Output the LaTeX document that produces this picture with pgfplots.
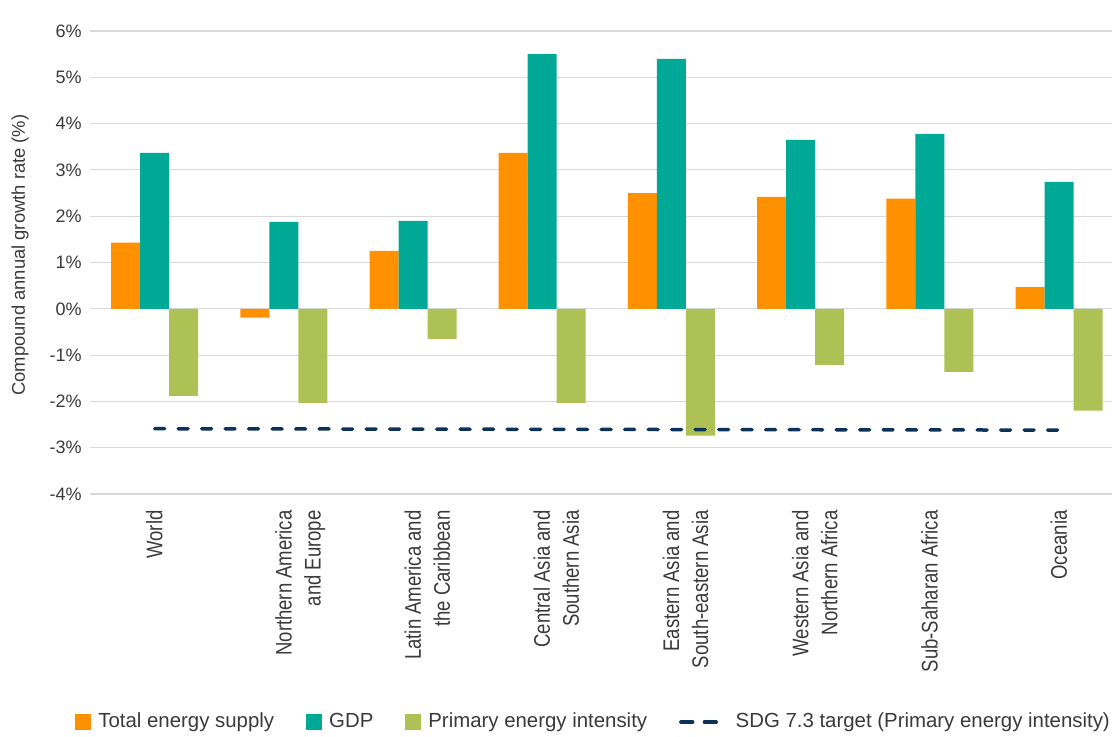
\documentclass[border=0pt]{standalone}
\usepackage{fontspec}
\setmainfont{Liberation Sans}
\newfontfamily\condfont{Liberation Sans}[FakeStretch=0.82]
\usepackage{pgfplots}
\pgfplotsset{compat=1.18}
\definecolor{tes}{HTML}{FF9100}
\definecolor{gdp}{HTML}{00A896}
\definecolor{pei}{HTML}{AEC154}
\definecolor{sdg}{HTML}{0D3259}
\definecolor{txt}{HTML}{3A3A3A}
\definecolor{grd}{HTML}{D9D9D9}
\begin{document}
\begin{tikzpicture}[font=\fontsize{9}{10}\selectfont]
\useasboundingbox (-45pt,-121pt) rectangle (511pt,247pt);
\begin{axis}[
  at={(0,0)}, anchor=south west,
  scale only axis, width=511pt, height=231.5pt,
  xmin=-0.5, xmax=7.41, ymin=-4, ymax=6,
  axis line style={draw=none},
  major tick length=0pt,
  ymajorgrids, grid style={grd, line width=0.6pt},
  ytick={-4,-3,-2,-1,0,1,2,3,4,5,6},
  yticklabels={-4\%,-3\%,-2\%,-1\%,0\%,1\%,2\%,3\%,4\%,5\%,6\%},
  yticklabel style={inner sep=0pt, text=txt, font=\fontsize{9}{10}\selectfont},
  yticklabel shift=4pt,
  xtick={0,1,2,3,4,5,6,7},
  xticklabels={World,{Northern America\\and Europe},{Latin America and\\the Caribbean},{Central Asia and\\Southern Asia},{Eastern Asia and\\South-eastern Asia},{Western Asia and\\Northern Africa},Sub-Saharan Africa,Oceania},
  xticklabel style={xshift=-4.5pt, rotate=90, anchor=north east, align=right, inner sep=0pt, text=txt, font=\condfont\fontsize{11.3}{14.5}\selectfont},
  xticklabel shift=8pt,
  ylabel={Compound annual growth rate (\%)},
  ylabel style={at={(axis description cs:-0.0685,0.516)}, anchor=center, text=txt, font=\fontsize{9.2}{11}\selectfont},
  legend columns=4,
  legend style={at={(axis description cs:-0.0147,-0.4924)}, anchor=west, draw=none, inner sep=0pt, fill=none,
    font=\fontsize{10.2}{12}\selectfont, text=txt,
    nodes={inner sep=0pt},
    /tikz/every odd column/.append style={column sep=3.5pt},
    /tikz/every even column/.append style={column sep=16pt}},
]
\addplot[ybar, bar width=14.5pt, bar shift=-14.5pt, fill=tes, draw=none,
  legend image code/.code={\fill[tes] (0pt,-4pt) rectangle (8pt,4pt);}]
  coordinates {(0,1.43) (1,-0.19) (2,1.25) (3,3.37) (4,2.50) (5,2.42) (6,2.38) (7,0.47)};
\addlegendentry{Total energy supply}
\addplot[ybar, bar width=14.5pt, bar shift=0pt, fill=gdp, draw=none,
  legend image code/.code={\fill[gdp] (0pt,-4pt) rectangle (8pt,4pt);}]
  coordinates {(0,3.37) (1,1.88) (2,1.90) (3,5.50) (4,5.40) (5,3.65) (6,3.78) (7,2.74)};
\addlegendentry{GDP}
\addplot[ybar, bar width=14.5pt, bar shift=14.5pt, fill=pei, draw=none,
  legend image code/.code={\fill[pei] (0pt,-4pt) rectangle (8pt,4pt);}]
  coordinates {(0,-1.88) (1,-2.03) (2,-0.65) (3,-2.03) (4,-2.74) (5,-1.21) (6,-1.36) (7,-2.20)};
\addlegendentry{Primary energy intensity}
\addplot[sdg, line width=1.75pt, line cap=round, dash pattern=on 5pt off 6.75pt,
  legend image code/.code={\path (0pt,0pt) -- (23pt,0pt);
    \draw[sdg, line width=1.75pt, line cap=round] (0.9pt,0pt) -- (5.9pt,0pt);
    \draw[sdg, line width=1.75pt, line cap=round] (12.65pt,0pt) -- (17.65pt,0pt);}]
  coordinates {(0,-2.59) (7,-2.62)};
\addlegendentry{SDG 7.3 target (Primary energy intensity)}
\end{axis}
\end{tikzpicture}
\end{document}
